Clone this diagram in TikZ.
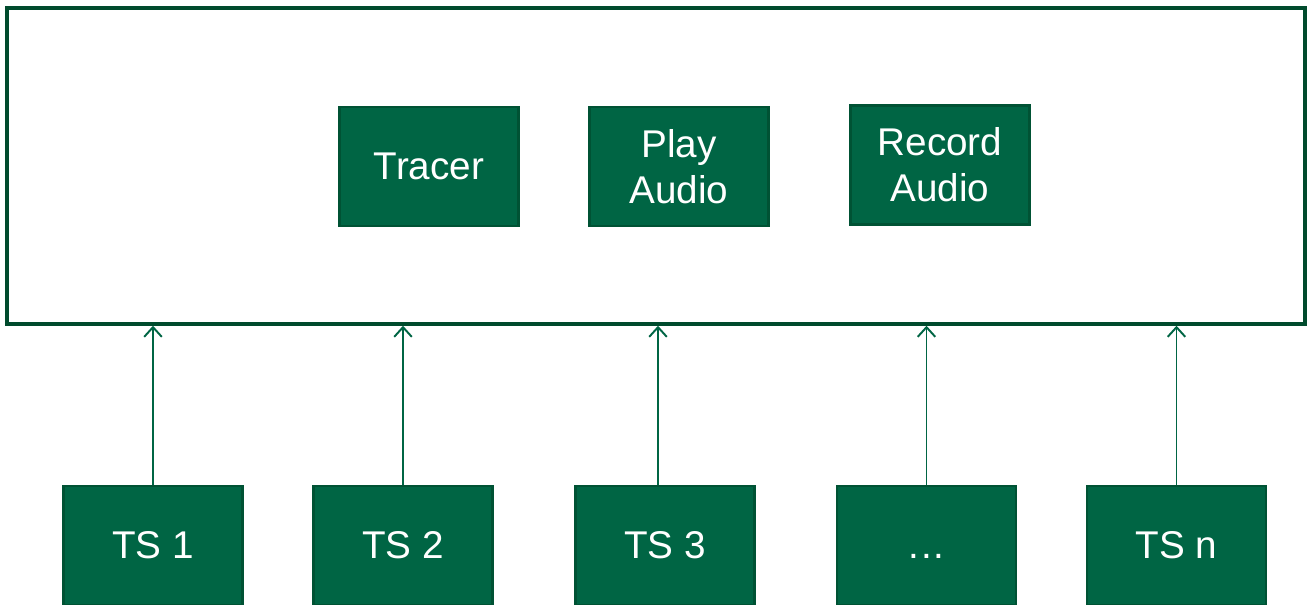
\documentclass[tikz,border=0pt]{standalone}
\usepackage{fontspec}
\setmainfont{Liberation Sans}
\usetikzlibrary{arrows.meta}
\definecolor{tsgreen}{RGB}{0,101,68}
\definecolor{tsedge}{RGB}{0,82,52}
\definecolor{tsframe}{RGB}{0,75,45}
\tikzset{
    greenbox/.style={draw=tsedge, fill=tsgreen, line width=1.2pt, text=white,
        minimum width=3.58cm, minimum height=2.38cm, align=center,
        font=\fontsize{22}{26}\selectfont},
    frame/.style={draw=tsframe, line width=2pt, minimum width=25.96cm,
        minimum height=6.32cm},
    uparrow/.style={draw=tsgreen, line width=1.1pt,
        -{Straight Barb[length=5.5pt, width=10pt]}}
}
\begin{document}
\begin{tikzpicture}
                \useasboundingbox (0,0) rectangle (26.14,12.1);
                \node[frame] (host) at (13.12,8.78) {};

                \node[greenbox] (tracer) at (8.58,8.77) {Tracer};
                \node[greenbox] (play) at (13.58,8.77) {Play\\Audio};
                \node[greenbox] (record) at (18.8,8.8) {Record\\Audio};

                \node[greenbox] (ts1) at (3.06,1.19) {TS 1};
                \node[greenbox] (ts2) at (8.06,1.19) {TS 2};
                \node[greenbox] (ts3) at (13.3,1.19) {TS 3};
                \node[greenbox] (tsdots) at (18.53,1.19) {\vphantom{TS 1}.\kern1.2pt.\kern1.2pt.};
                \node[greenbox] (tsn) at (23.53,1.19) {TS n};

                \draw[uparrow] (ts1.north) -- (ts1.north |- host.south);
                \draw[uparrow] (ts2.north) -- (ts2.north |- host.south);
                \draw[uparrow] ([xshift=-0.14cm]ts3.north) -- ([xshift=-0.14cm]ts3.north |- host.south);
                \draw[uparrow] (tsdots.north) -- (tsdots.north |- host.south);
                \draw[uparrow] (tsn.north) -- (tsn.north |- host.south);
\end{tikzpicture}
\end{document}
